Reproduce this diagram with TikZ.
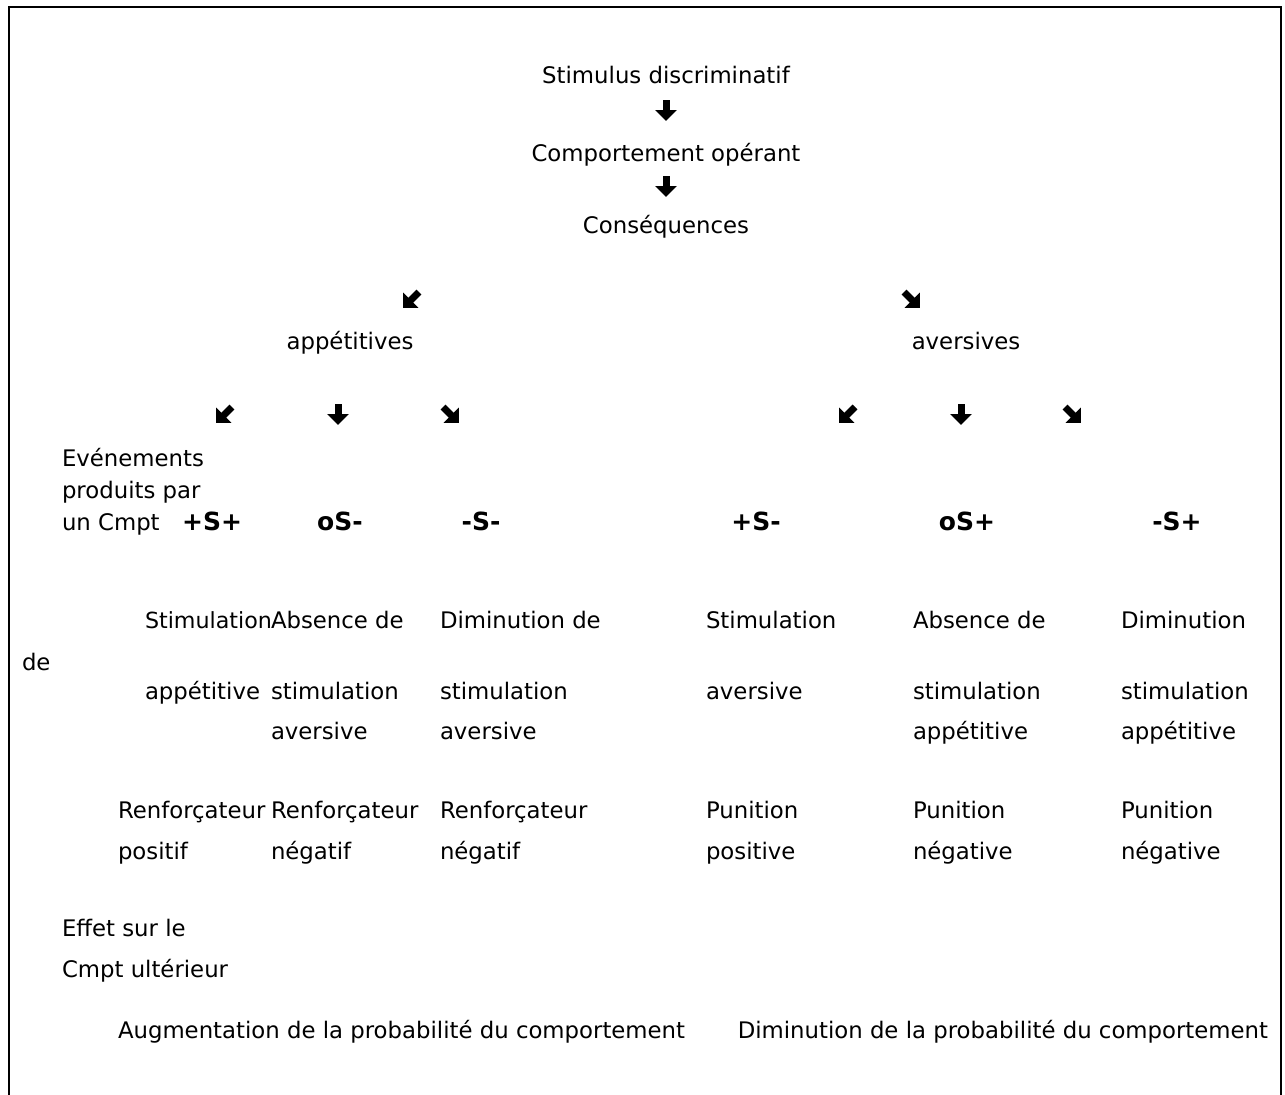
\documentclass[tikz,border=0pt]{standalone}
\usepackage{fontspec}
\setmainfont{DejaVu Sans}
\usetikzlibrary{arrows.meta}
\tikzset{
  lbl/.style={inner sep=0pt, outer sep=0pt, font=\fontsize{22.8bp}{26bp}\selectfont},
  sym/.style={inner sep=0pt, outer sep=0pt, font=\fontsize{25bp}{28bp}\selectfont\bfseries},
  fatarrow/.style={line width=7bp, -{Triangle[width=21bp,length=11bp]}},
  frame/.style={line width=2.6bp}
}
\begin{document}
\begin{tikzpicture}[x=1bp,y=-1bp]
\useasboundingbox (0,0) rectangle (1285,1095);
\draw[frame] (9,1095) -- (9,7) -- (1281,7) -- (1281,1095);

% top chain
\node[lbl, anchor=base] (sd) at (666,83) {Stimulus discriminatif};
\node[lbl, anchor=base] (co) at (666,161) {Comportement opérant};
\node[lbl, anchor=base] (cq) at (666,233) {Conséquences};
\coordinate (d1s) at (666,100); \coordinate (d1e) at (666,121);
\coordinate (d2s) at (666,176); \coordinate (d2e) at (666,197);
\draw[fatarrow] (d1s) -- (d1e);
\draw[fatarrow] (d2s) -- (d2e);

% second level
\coordinate (l1s) at (419,292); \coordinate (l1e) at (403,308);
\coordinate (r1s) at (904,292); \coordinate (r1e) at (920,308);
\draw[fatarrow] (l1s) -- (l1e);
\draw[fatarrow] (r1s) -- (r1e);
\node[lbl, anchor=base] (app) at (350,349) {appétitives};
\node[lbl, anchor=base] (ave) at (966,349) {aversives};

% third level arrows
\coordinate (a1s) at (232,407); \coordinate (a1e) at (216,423);
\coordinate (a2s) at (338,404); \coordinate (a2e) at (338,425);
\coordinate (a3s) at (443,407); \coordinate (a3e) at (459,423);
\coordinate (b1s) at (855,407); \coordinate (b1e) at (839,423);
\coordinate (b2s) at (961,404); \coordinate (b2e) at (961,425);
\coordinate (b3s) at (1065,407); \coordinate (b3e) at (1081,423);
\foreach \p in {a1,a2,a3,b1,b2,b3} \draw[fatarrow] (\p s) -- (\p e);

% left labels
\node[lbl, anchor=base west] (ev1) at (62,466) {Evénements};
\node[lbl, anchor=base west] (ev2) at (62,498) {produits par};
\node[lbl, anchor=base west] (ev3) at (62,530) {un Cmpt};
\node[lbl, anchor=base west] (de) at (22,670) {de};

% symbols
\node[sym, anchor=base] (s1) at (212,530) {+S+};
\node[sym, anchor=base] (s2) at (340,530) {oS-};
\node[sym, anchor=base] (s3) at (481,530) {-S-};
\node[sym, anchor=base] (s4) at (756,530) {+S-};
\node[sym, anchor=base] (s5) at (967,530) {oS+};
\node[sym, anchor=base] (s6) at (1177,530) {-S+};

% descriptions row 1
\node[lbl, anchor=base west, font=\fontsize{22.2bp}{26bp}\selectfont] (c1a) at (145,628) {Stimulation};
\node[lbl, anchor=base west] (c2a) at (271,628) {Absence de};
\node[lbl, anchor=base west] (c3a) at (440,628) {Diminution de};
\node[lbl, anchor=base west] (c4a) at (706,628) {Stimulation};
\node[lbl, anchor=base west] (c5a) at (913,628) {Absence de};
\node[lbl, anchor=base west] (c6a) at (1121,628) {Diminution};
% row 2
\node[lbl, anchor=base west] (c1b) at (145,699) {appétitive};
\node[lbl, anchor=base west] (c2b) at (271,699) {stimulation};
\node[lbl, anchor=base west] (c3b) at (440,699) {stimulation};
\node[lbl, anchor=base west] (c4b) at (706,699) {aversive};
\node[lbl, anchor=base west] (c5b) at (913,699) {stimulation};
\node[lbl, anchor=base west] (c6b) at (1121,699) {stimulation};
% row 3
\node[lbl, anchor=base west] (c2c) at (271,739) {aversive};
\node[lbl, anchor=base west] (c3c) at (440,739) {aversive};
\node[lbl, anchor=base west] (c5c) at (913,739) {appétitive};
\node[lbl, anchor=base west] (c6c) at (1121,739) {appétitive};

% consequences names
\node[lbl, anchor=base west] (r1a) at (118,818) {Renforçateur};
\node[lbl, anchor=base west] (r2a) at (271,818) {Renforçateur};
\node[lbl, anchor=base west] (r3a) at (440,818) {Renforçateur};
\node[lbl, anchor=base west] (r4a) at (706,818) {Punition};
\node[lbl, anchor=base west] (r5a) at (913,818) {Punition};
\node[lbl, anchor=base west] (r6a) at (1121,818) {Punition};
\node[lbl, anchor=base west] (r1b) at (118,859) {positif};
\node[lbl, anchor=base west] (r2b) at (271,859) {négatif};
\node[lbl, anchor=base west] (r3b) at (440,859) {négatif};
\node[lbl, anchor=base west] (r4b) at (706,859) {positive};
\node[lbl, anchor=base west] (r5b) at (913,859) {négative};
\node[lbl, anchor=base west] (r6b) at (1121,859) {négative};

% effect
\node[lbl, anchor=base west] (ef1) at (62,936) {Effet sur le};
\node[lbl, anchor=base west] (ef2) at (62,977) {Cmpt ultérieur};
\node[lbl, anchor=base west] (aug) at (118,1038) {Augmentation de la probabilité du comportement};
\node[lbl, anchor=base east] (dim) at (1268,1038) {Diminution de la probabilité du comportement};
\end{tikzpicture}
\end{document}
